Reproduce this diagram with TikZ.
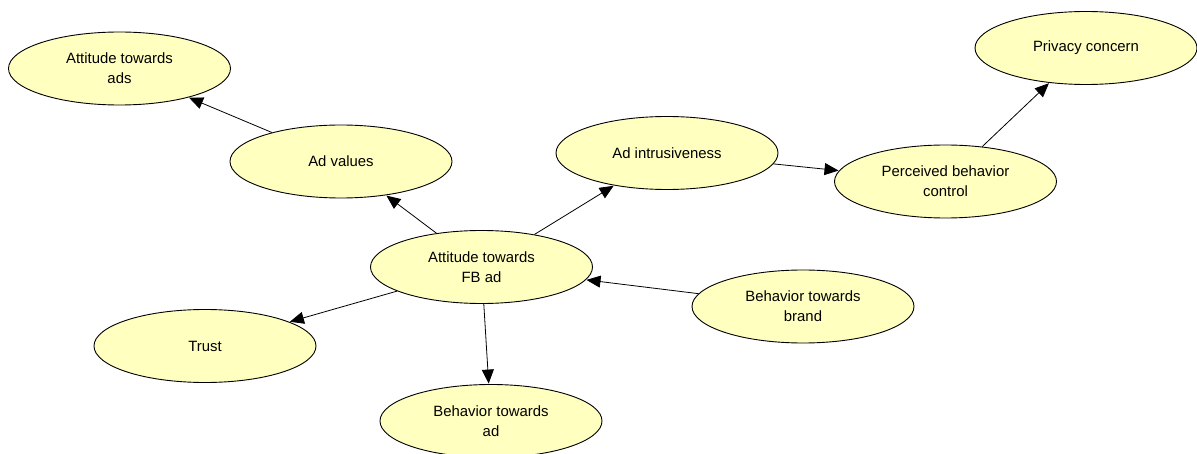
\documentclass[tikz,border=0pt]{standalone}
\usepackage{fontspec}
\setmainfont{Liberation Sans}
\usetikzlibrary{shapes.geometric,arrows.meta}
\definecolor{nodefill}{RGB}{255,255,192}
\tikzset{
  concept/.style={ellipse, draw=black, line width=0.9pt, fill=nodefill,
    minimum width=222pt, minimum height=73pt, inner sep=0pt, align=center,
    font=\fontsize{14.9}{20}\selectfont},
  link/.style={draw=black, line width=0.8pt, -{Triangle[length=14pt,width=12pt]}, shorten >=0.5pt}
}
\begin{document}
\begin{tikzpicture}[x=1pt,y=-1pt]
\clip (0,0) rectangle (1197,454);
\useasboundingbox (0,0) rectangle (1197,454);
\node[concept] (ads) at (119.5,68.5) {Attitude towards\\ads};
\node[concept] (values) at (341,161.5) {Ad values};
\node[concept] (intr) at (667,153) {Ad intrusiveness};
\node[concept] (fb) at (481.5,267) {Attitude towards\\FB ad};
\node[concept] (priv) at (1086,48) {Privacy concern};
\node[concept] (pbc) at (945.5,181.5) {Perceived behavior\\control};
\node[concept] (trust) at (205,346) {Trust};
\node[concept] (bad) at (491,421) {Behavior towards\\ad};
\node[concept] (brand) at (803,306.5) {Behavior towards\\brand};
\draw[link] (values) -- (ads);
\draw[link] (fb) -- (values);
\draw[link] (fb) -- (intr);
\draw[link] (intr) -- (pbc);
\draw[link] (pbc) -- (priv);
\draw[link] (brand) -- (fb);
\draw[link] (fb) -- (trust);
\draw[link] (fb) -- (bad);
\end{tikzpicture}
\end{document}
